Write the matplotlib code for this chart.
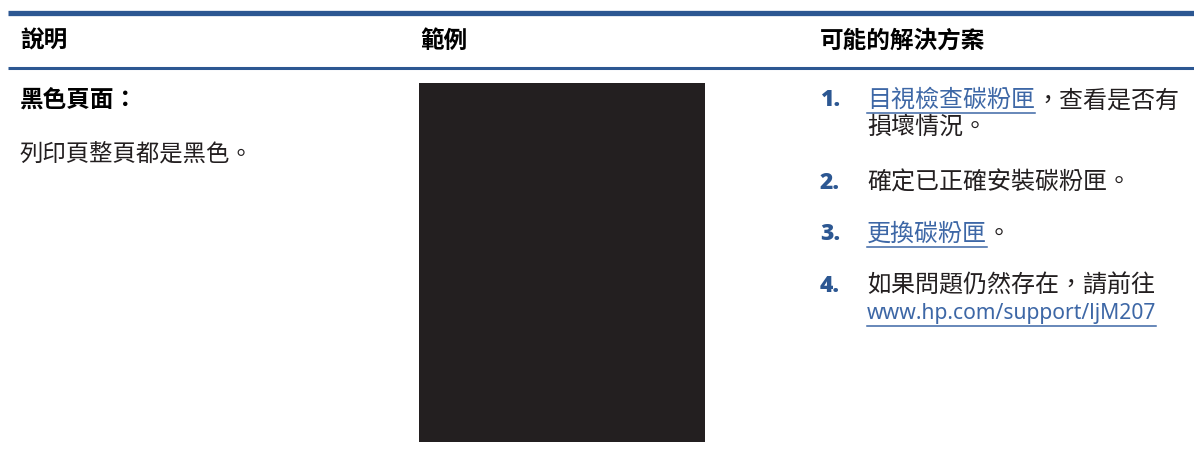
import matplotlib.pyplot as plt
from matplotlib.patches import Rectangle

plt.rcParams['font.family'] = ['Noto Sans CJK TC', 'DejaVu Sans']

# table content
headers = ["說明", "範例", "可能的解決方案"]
issue_title = "黑色頁面："
issue_text = "列印頁整頁都是黑色。"
step_numbers = ["1.", "2.", "3.", "4."]
# each step: list of (text, is_link) pieces per line
step_lines = [
    [[("目視檢查碳粉匣", True), ("，查看是否有", False)], [("損壞情況。", False)]],
    [[("確定已正確安裝碳粉匣。", False)]],
    [[("更換碳粉匣", True), ("。", False)]],
    [[("如果問題仍然存在，請前往", False)], [("www.hp.com/support/ljM207", True)]],
]

blue = "#2c5792"
link_blue = "#3d67a6"
text_col = "#231f20"

fig = plt.figure(figsize=(11.94, 4.55), dpi=100)
ax = fig.add_axes([0, 0, 1, 1])
ax.set_xlim(0, 1194)
ax.set_ylim(455, 0)
ax.axis("off")

# header rules
ax.plot([8, 1194], [13, 13], color=blue, lw=3.8, solid_capstyle="butt")
ax.plot([8, 1194], [68, 68], color=blue, lw=2.2, solid_capstyle="butt")

col_x = [20, 420, 820]
for x, h in zip(col_x, headers):
    ax.text(x, 41, h, fontsize=17, fontweight="heavy", color="black", va="center")

# left column
ax.text(20, 100, issue_title, fontsize=17, fontweight="heavy", color="black", va="center")
ax.text(20, 155, issue_text, fontsize=16.8, color=text_col, va="center")

# sample image (black page)
ax.add_patch(Rectangle((419, 83), 286, 359, color="#231f20", lw=0))

# right column steps
fig.canvas.draw()
renderer = fig.canvas.get_renderer()
inv = ax.transData.inverted()
step_y = [100, 183, 234, 286]
line_gap = 27
for num, lines, y0 in zip(step_numbers, step_lines, step_y):
    ax.text(820, y0, num, fontsize=16.5, fontweight="heavy", color=blue, va="center",
            family=["Open Sans", "DejaVu Sans"])
    for i, pieces in enumerate(lines):
        y = y0 + i * line_gap
        x = 867
        for txt, is_link in pieces:
            is_url = txt.startswith("www")
            fam = ["Noto Sans", "DejaVu Sans"] if is_url else None
            t = ax.text(x, y, txt, fontsize=15.2 if is_url else 17.3, va="center",
                        family=fam, color=link_blue if is_link else text_col)
            bb = t.get_window_extent(renderer=renderer)
            (x0, _), (x1, _) = inv.transform([[bb.x0, bb.y0], [bb.x1, bb.y1]])
            if is_link:
                ax.plot([x0, x1], [y + 13, y + 13], color=link_blue, lw=1.1)
            x = x1

fig.savefig("out.png", dpi=100)
